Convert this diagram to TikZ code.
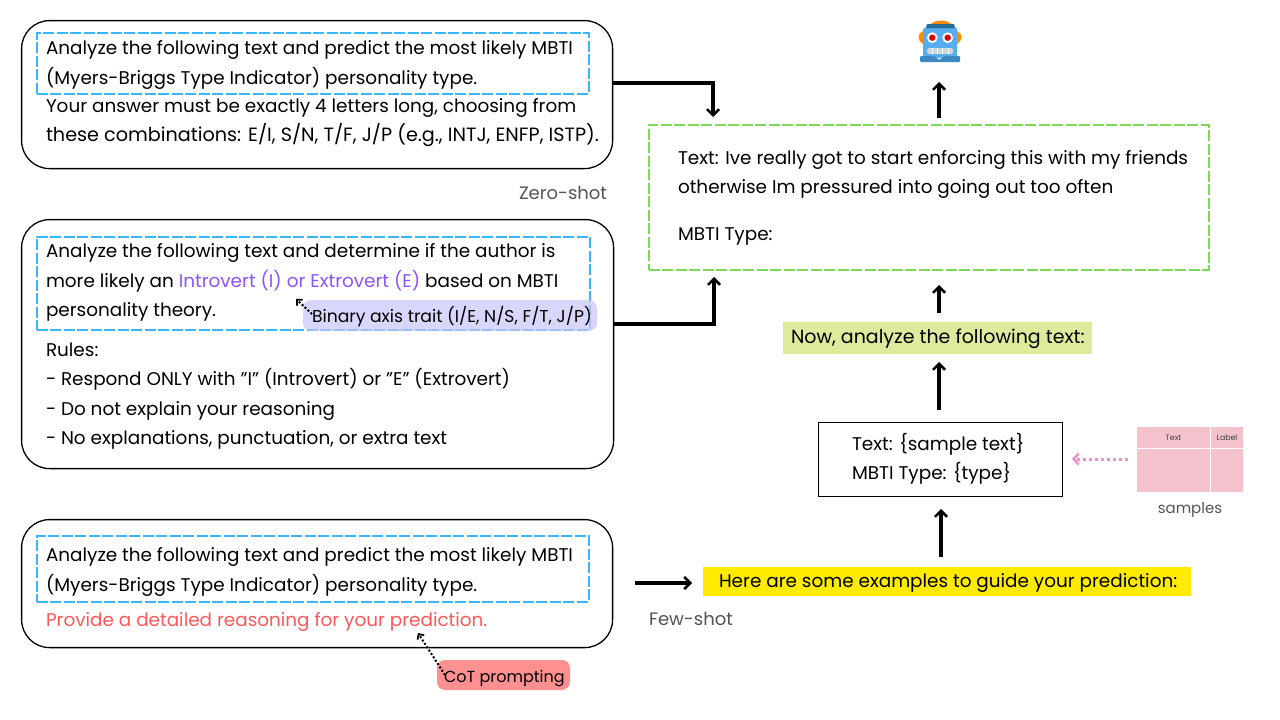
\documentclass[tikz,border=0pt]{standalone}
\usepackage{fontspec}
\setmainfont{Poppins}
\usetikzlibrary{arrows.meta}
\definecolor{skyd}{HTML}{38B6FF}
\definecolor{greend}{HTML}{7ED957}
\definecolor{purplet}{HTML}{8C52FF}
\definecolor{redt}{HTML}{FF5757}
\definecolor{pillp}{HTML}{C9C4F9}
\definecolor{pillr}{HTML}{FF9090}
\definecolor{yell}{HTML}{FFEB00}
\definecolor{lime}{HTML}{DDEB9D}
\definecolor{pinkt}{HTML}{F4C2CC}
\definecolor{pinka}{HTML}{F08FD0}
\definecolor{grayt}{HTML}{545454}
\tikzset{
 x=1pt,y=-1pt,
 every node/.style={outer sep=0pt},
 round box/.style={draw=black,line width=1.3pt,rounded corners=28pt},
 blue dash/.style={draw=skyd,line width=1.9pt,dash pattern=on 11pt off 2.5pt},
 green dash/.style={draw=greend,line width=1.9pt,dash pattern=on 11pt off 2.5pt},
 txt/.style={anchor=base west,inner sep=0pt,font=\fontsize{18.4}{20}\selectfont,text=black},
 wide txt/.style={anchor=base west,inner sep=0pt,font=\fontsize{19.2}{20}\selectfont,text=black},
 small txt/.style={anchor=base west,inner sep=0pt,font=\fontsize{17.2}{18}\selectfont,text=black},
 pill txt/.style={anchor=base west,inner sep=0pt,font=\fontsize{16}{18}\selectfont,text=black},
 gray txt/.style={anchor=base west,inner sep=0pt,font=\fontsize{18}{20}\selectfont,text=grayt},
 flow/.style={draw=black,line width=3.1pt,-{Straight Barb[length=6pt,width=12pt,line width=2.5pt]}},
 hint/.style={draw=black,line width=2pt,dash pattern=on 2pt off 2pt,-{Straight Barb[length=4pt,width=8pt,line width=1.8pt]}},
}
\begin{document}
\begin{tikzpicture}
\useasboundingbox (0,0) rectangle (1280,720);
% prompt boxes
\node[round box,minimum width=591pt,minimum height=148pt,anchor=north west,inner sep=0pt] (zero) at (21.6,20.6) {};
\node[round box,minimum width=592pt,minimum height=249pt,anchor=north west,inner sep=0pt] (binary) at (21.6,219.6) {};
\node[round box,minimum width=591pt,minimum height=128pt,anchor=north west,inner sep=0pt] (cot) at (21.6,519.6) {};
% fills
\node[fill=pillr,rounded corners=8pt,minimum width=133pt,minimum height=30pt,anchor=north west,inner sep=0pt] (cotpill) at (437,660) {};
\node[fill=yell,minimum width=488pt,minimum height=29pt,anchor=north west,inner sep=0pt] (yellow) at (703,567) {};
\node[fill=lime,minimum width=309pt,minimum height=32pt,anchor=north west,inner sep=0pt] (limebox) at (783,322) {};
% dashed frames
\node[blue dash,minimum width=552pt,minimum height=61pt,anchor=north west,inner sep=0pt] (dz) at (36.7,32.7) {};
\node[blue dash,minimum width=553pt,minimum height=93pt,anchor=north west,inner sep=0pt] (db) at (36.7,236.7) {};
\node[blue dash,minimum width=552pt,minimum height=66pt,anchor=north west,inner sep=0pt] (dc) at (36.7,535.7) {};
\node[green dash,minimum width=560pt,minimum height=145pt,anchor=north west,inner sep=0pt] (query) at (648.7,124.7) {};
% translucent pill above the dashes
\node[fill=pillp,fill opacity=.7,rounded corners=8pt,minimum width=294pt,minimum height=31pt,anchor=north west,inner sep=0pt] (binpill) at (303,300) {};
% sample box
\node[draw=black,line width=1.1pt,minimum width=244pt,minimum height=74pt,anchor=north west,inner sep=0pt] (sample) at (818.5,422.5) {};
% texts
\node[txt] (t1) at (46,54.6) {Analyze the following text and predict the most likely MBTI};
\node[txt] (t2) at (46,84.6) {(Myers-Briggs Type Indicator) personality type.};
\node[txt] (t3) at (46,112.6) {Your answer must be exactly 4 letters long, choosing from};
\node[wide txt] (t4) at (46,141.6) {these combinations: E/I, S/N, T/F, J/P (e.g., INTJ, ENFP, ISTP).};
\node[gray txt] (zs) at (519,199.6) {Zero-shot};
\node[txt] (b1) at (46,257.6) {Analyze the following text and determine if the author is};
\node[txt] (b2) at (46,287.6) {more likely an \textcolor{purplet}{Introvert (I) or Extrovert (E)} based on MBTI};
\node[txt] (b3) at (46,316.6) {personality theory.};
\node[small txt] (bl) at (312,322) {Binary axis trait (I/E, N/S, F/T, J/P)};
\node[txt] (b4) at (46,356.6) {Rules:};
\node[txt] (b5) at (46,385.6) {- Respond ONLY with "I" (Introvert) or "E" (Extrovert)};
\node[txt] (b6) at (46,415.6) {- Do not explain your reasoning};
\node[txt] (b7) at (46,444.6) {- No explanations, punctuation, or extra text};
\node[txt] (c1) at (46,561.6) {Analyze the following text and predict the most likely MBTI};
\node[txt] (c2) at (46,591.6) {(Myers-Briggs Type Indicator) personality type.};
\node[txt,text=redt] (c3) at (46,626.6) {Provide a detailed reasoning for your prediction.};
\node[pill txt] (cl) at (444,682) {CoT prompting};
\node[txt] (q1) at (678,164.6) {Text: Ive really got to start enforcing this with my friends};
\node[txt] (q2) at (678,193.6) {otherwise Im pressured into going out too often};
\node[txt] (q3) at (678,240.6) {MBTI Type:};
\node[txt,font=\fontsize{19}{20}\selectfont] (nw) at (791,343.6) {Now, analyze the following text:};
\node[txt] (s1) at (852,450.6) {Text: \{sample text\}};
\node[txt] (s2) at (852,479.6) {MBTI Type: \{type\}};
\node[txt] (he) at (719,587.6) {Here are some examples to guide your prediction:};
\node[gray txt] (fs) at (649,625.6) {Few-shot};
% samples table
\node[fill=pinkt,minimum width=73pt,minimum height=21pt,anchor=north west,inner sep=0pt,text=black!75,font=\fontsize{7.8}{9}\selectfont] (th1) at (1137,427) {Text};
\node[fill=pinkt,minimum width=32pt,minimum height=21pt,anchor=north west,inner sep=0pt,text=black!75,font=\fontsize{7.8}{9}\selectfont] (th2) at (1211,427) {Label};
\node[fill=pinkt,minimum width=73pt,minimum height=43pt,anchor=north west,inner sep=0pt] (td1) at (1137,449) {};
\node[fill=pinkt,minimum width=32pt,minimum height=43pt,anchor=north west,inner sep=0pt] (td2) at (1211,449) {};
\node[anchor=base,inner sep=0pt,text=grayt,font=\fontsize{15}{17}\selectfont] (sl) at (1190,513) {samples};
% robot
\begin{scope}
\fill[orange!90!yellow] (930,25) .. controls (934,19) and (948,19) .. (952,25) -- cycle;
\fill[orange!90!yellow] (923,31) .. controls (917,33) and (917,41) .. (923,44) -- cycle;
\fill[orange!90!yellow] (957,31) .. controls (963,33) and (963,41) .. (957,44) -- cycle;
\fill[rounded corners=1pt,fill={rgb,255:red,85;green,172;blue,238}] (923,28) rectangle (957,58);
\fill[fill={rgb,255:red,41;green,105;blue,150}] (926,28) -- (927,24) -- (954,24) -- (955,28) -- cycle;
\fill[rounded corners=1pt,fill={rgb,255:red,59;green,136;blue,195}] (920,62) -- (920,56) -- (934,56) -- (939,60) -- (945,56) -- (960,56) -- (960,62) -- cycle;
\fill[white] (932.3,37.7) circle (5.4pt) (947.7,37.7) circle (5.4pt);
\fill[red!85!black] (932.3,37.7) circle (3.2pt) (947.7,37.7) circle (3.2pt);
\fill[rounded corners=1.5pt,fill={rgb,255:red,204;green,214;blue,221}] (927,48) rectangle (953,54);
\draw[white,line width=.7pt] (932,48) -- (932,54) (937,48) -- (937,54) (942,48) -- (942,54) (948,48) -- (948,54);
\end{scope}
% connector anchors
\coordinate (z0) at (612,83);
\coordinate (z1) at (713,117);
\coordinate (b0) at (613,324);
\coordinate (b1e) at (714,277);
\coordinate (f0) at (635,583);
\coordinate (f1) at (692,583);
\coordinate (a0) at (941,557);
\coordinate (a1) at (941,509);
\coordinate (a2) at (939,410);
\coordinate (a3) at (939,362);
\coordinate (a4) at (939,313);
\coordinate (a5) at (939,285);
\coordinate (a6) at (939,118);
\coordinate (a7) at (939,82);
\coordinate (p0) at (1128,459);
\coordinate (p1) at (1072,459);
\coordinate (h0) at (312,314);
\coordinate (h1) at (296,299);
\coordinate (h2) at (445,675);
\coordinate (h3) at (418,633);
\draw[flow] (z0) -| (z1);
\draw[flow] (b0) -| (b1e);
\draw[flow] (f0) -- (f1);
\draw[flow] (a0) -- (a1);
\draw[flow] (a2) -- (a3);
\draw[flow] (a4) -- (a5);
\draw[flow] (a6) -- (a7);
\draw[draw=pinka,line width=3pt,dash pattern=on 3pt off 3pt,-{Straight Barb[length=5pt,width=11pt,line width=2.4pt]}] (p0) -- (p1);
\draw[hint] (h0) -- (h1);
\draw[hint] (h2) -- (h3);
\end{tikzpicture}
\end{document}
